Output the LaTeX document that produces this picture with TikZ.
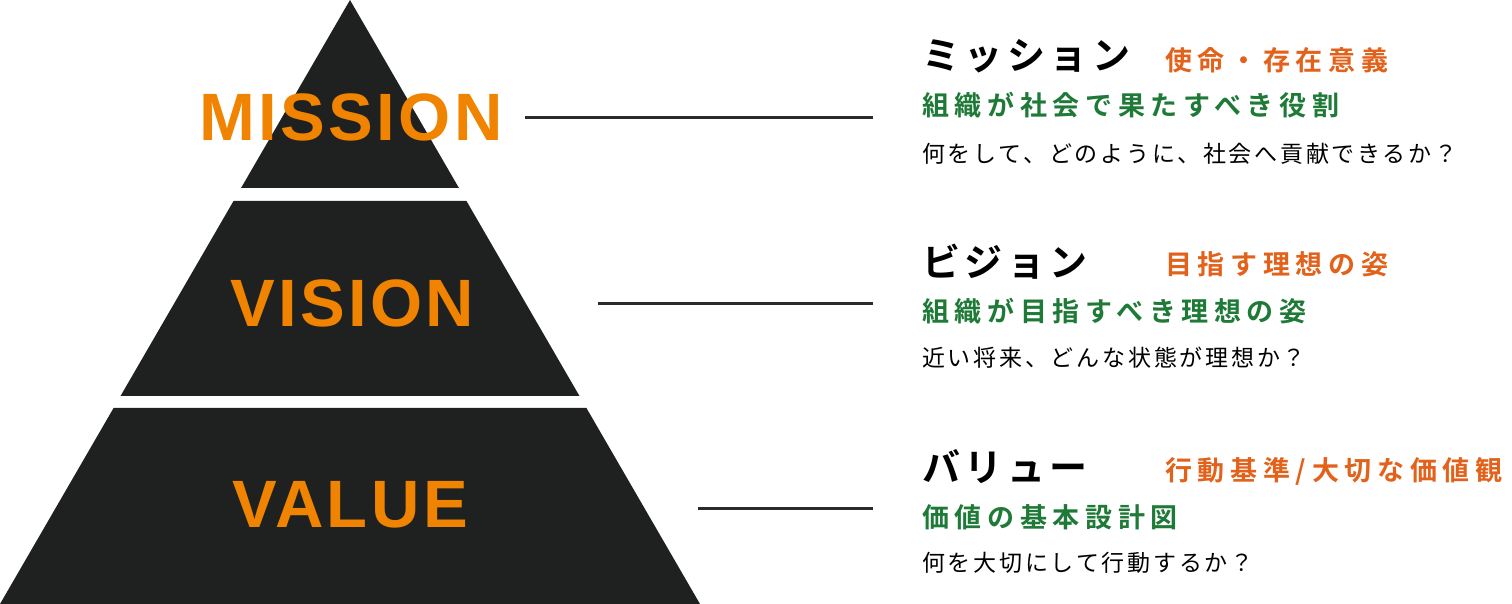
\documentclass[tikz,border=0pt]{standalone}
\usepackage{fontspec}
\setmainfont{Liberation Sans}
\newfontfamily\jpfont{Noto Sans CJK JP}[BoldFont={Noto Sans CJK JP Bold}]
\usetikzlibrary{calc}

\definecolor{pyrblack}{HTML}{1F2120}
\definecolor{lblorange}{HTML}{F08300}
\definecolor{jporange}{HTML}{E2621B}
\definecolor{jpgreen}{HTML}{1F7A38}
\definecolor{linegray}{HTML}{2B2B2B}

\begin{document}
\begin{tikzpicture}[x=1pt, y=-1pt]

        \def\basey{604}             % height of the pyramid
        \def\txtx{922}              % left edge of the text column
        \def\orx{1165}              % left edge of the orange keywords
        \def\linex{873}             % where the leader lines end
        \tikzstyle{layer}=[fill=pyrblack]
        \tikzstyle{lname}=[font={\bfseries\fontsize{67}{67}\selectfont\addfontfeature{LetterSpace=5}}, text=lblorange, inner sep=0pt]
        \tikzstyle{ktitle}=[anchor=west, inner sep=0pt, font={\jpfont\bfseries\fontsize{38}{38}\selectfont\addfontfeature{LetterSpace=12}}]
        \tikzstyle{kword}=[anchor=west, inner sep=0pt, text=jporange, font={\jpfont\bfseries\fontsize{27}{27}\selectfont\addfontfeature{LetterSpace=21}}]
        \tikzstyle{kdef}=[anchor=west, inner sep=0pt, text=jpgreen, font={\jpfont\bfseries\fontsize{27}{27}\selectfont\addfontfeature{LetterSpace=21}}]
        \tikzstyle{kquest}=[anchor=west, inner sep=0pt, font={\jpfont\fontsize{23}{23}\selectfont\addfontfeature{LetterSpace=12}}]
        \tikzstyle{leader}=[draw=linegray, line width=3pt]

        \useasboundingbox (0,0) rectangle (1512,604);

        \coordinate (apex) at (350,0);
        \coordinate (bl) at (0,\basey);
        \coordinate (br) at (700,\basey);

        % Draw the three layers of the pyramid
            \foreach \ya/\yb in {0/188, 201/396, 408/604}{
                \fill[layer] ($(apex)!{\ya/\basey}!(bl)$) -- ($(apex)!{\yb/\basey}!(bl)$)
                    -- ($(apex)!{\yb/\basey}!(br)$) -- ($(apex)!{\ya/\basey}!(br)$) -- cycle;
            }

        % Layer names
        \node[lname] (mission) at (351,117) {MISSION};
        \node[lname] (vision) at (352,303) {VISION};
        \node[lname] (value) at (350,505) {VALUE};

        % Mission text
        \node[ktitle] (mtitle) at (\txtx,56) {ミッション};
        \node[kword] (mword) at (\orx,60) {使命・存在意義};
        \node[kdef] (mdef) at (\txtx,105) {組織が社会で果たすべき役割};
        \node[kquest] (mquest) at (\txtx,154) {何をして、どのように、社会へ貢献できるか？};

        % Vision text
        \node[ktitle] (vtitle) at (\txtx,262) {ビジョン};
        \node[kword] (vword) at (\orx,264) {目指す理想の姿};
        \node[kdef] (vdef) at (\txtx,311) {組織が目指すべき理想の姿};
        \node[kquest] (vquest) at (\txtx,358) {近い将来、どんな状態が理想か？};

        % Value text
        \node[ktitle] (atitle) at (\txtx,467) {バリュー};
        \node[kword] (aword) at (\orx,471) {行動基準/大切な価値観};
        \node[kdef] (adef) at (\txtx,517) {価値の基本設計図};
        \node[kquest] (aquest) at (\txtx,563) {何を大切にして行動するか？};

        % Leader lines from the pyramid to the texts
        \coordinate (ml-a) at (525,118);   \coordinate (ml-b) at (\linex,118);
        \coordinate (vl-a) at (598,303);   \coordinate (vl-b) at (\linex,303);
        \coordinate (al-a) at (698,508);   \coordinate (al-b) at (\linex,508);
        \draw[leader] (ml-a) -- (ml-b);
        \draw[leader] (vl-a) -- (vl-b);
        \draw[leader] (al-a) -- (al-b);

\end{tikzpicture}
\end{document}
